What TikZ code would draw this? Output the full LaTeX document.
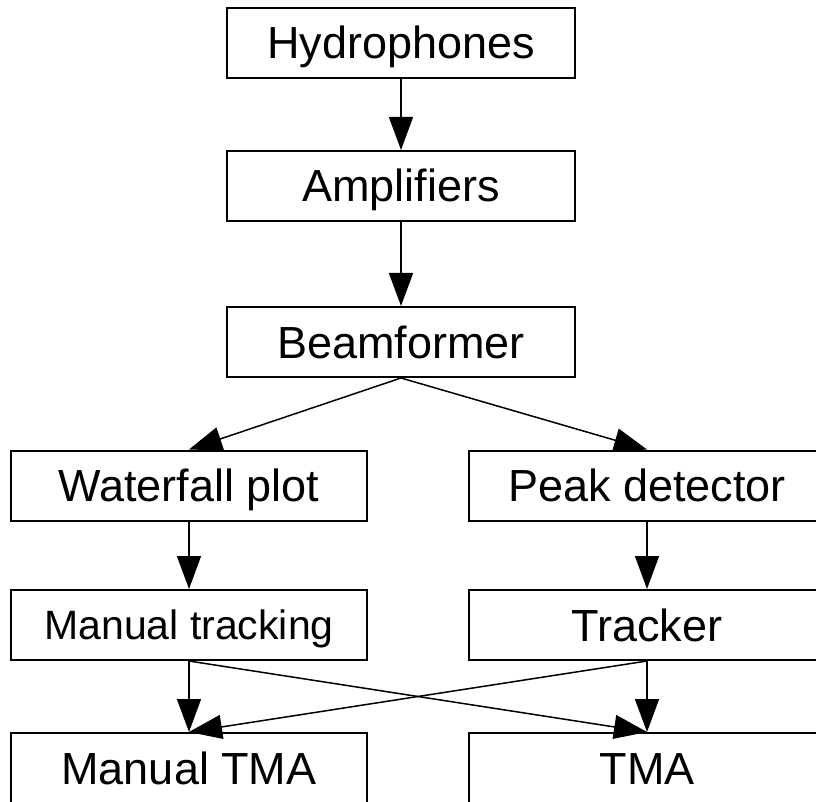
\documentclass[tikz,border=0pt]{standalone}
\usepackage{fontspec}
\setmainfont{Liberation Sans}
\usetikzlibrary{arrows.meta}
\begin{document}
\begin{tikzpicture}[x=1pt,y=-1pt,
  box/.style={draw, line width=2pt, rectangle, inner sep=0pt,
    minimum height=70pt, text height=32pt, text depth=0pt,
    font=\fontsize{45}{50}\selectfont},
  topbox/.style={box, minimum width=348pt},
  colbox/.style={box, minimum width=356pt},
  smalltext/.style={text height=29pt, font=\fontsize{41}{46}\selectfont},
  flow/.style={line width=1.5pt, -{Triangle[length=33pt,width=24pt]}}]
\clip (0,0) rectangle (816,802);
\fill[white] (0,0) rectangle (816,802);
\node[topbox] (hyd) at (401,43) {Hydrophones};
\node[topbox] (amp) at (401,186) {Amplifiers};
\node[topbox] (beam) at (401,342) {Beamformer};
\node[colbox] (wf) at (189,485.5) {Waterfall plot};
\node[colbox] (pk) at (647,485.5) {Peak detector};
\node[colbox, smalltext] (mt) at (189,625) {Manual tracking};
\node[colbox] (tr) at (647,625) {Tracker};
\node[colbox] (mtma) at (189,768) {Manual TMA};
\node[colbox] (tma) at (647,768) {TMA};
\draw[flow] (hyd.south) -- (amp.north);
\draw[flow] (amp.south) -- (beam.north);
\draw[flow] (beam.south) -- (wf.north);
\draw[flow] (beam.south) -- (pk.north);
\draw[flow] (wf.south) -- (mt.north);
\draw[flow] (pk.south) -- (tr.north);
\draw[flow] (mt.south) -- (mtma.north);
\draw[flow] (mt.south) -- (tma.north);
\draw[flow] (tr.south) -- (tma.north);
\draw[flow] (tr.south) -- (mtma.north);
\end{tikzpicture}
\end{document}
